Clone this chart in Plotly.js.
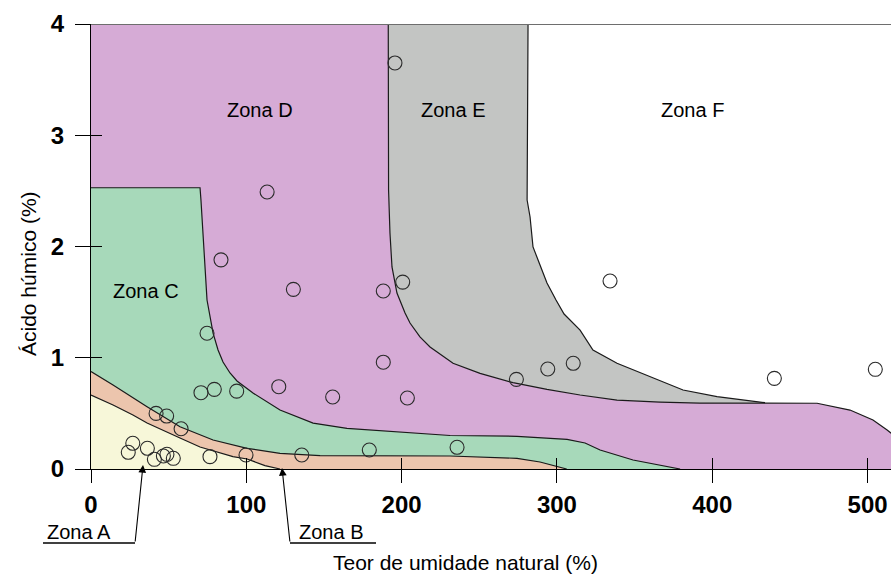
<!DOCTYPE html>
<html>
<head>
<meta charset="utf-8">
<script src="https://cdn.plot.ly/plotly-3.0.1.min.js"></script>
<style>html,body{margin:0;padding:0;background:#fff;}#chart{width:891px;height:578px;}</style>
</head>
<body>
<div id="chart"></div>
<script>
// ---- data ----
// measured samples: natural moisture content (%) and humic acid (%)
const moisture = [24.0, 26.9, 36.3, 40.8, 46.6, 48.9, 53.0, 41.9, 48.7, 58.0, 76.6, 99.8, 135.7,
  70.8, 79.4, 93.8, 74.7, 179.2, 235.7, 113.4, 83.7, 130.3, 120.9, 155.6, 188.2, 188.2, 203.7,
  195.7, 200.7, 273.9, 294.1, 310.5, 334.2, 440.0, 505.0];
const humic = [0.150, 0.231, 0.186, 0.087, 0.117, 0.132, 0.096, 0.50, 0.476, 0.362, 0.111, 0.126, 0.126,
  0.686, 0.716, 0.70, 1.22, 0.171, 0.195, 2.49, 1.88, 1.615, 0.74, 0.647, 1.60, 0.96, 0.638,
  3.65, 1.68, 0.806, 0.899, 0.950, 1.69, 0.815, 0.896];

// zone boundaries (upper edge of each zone)
const zoneA_x = [0, 14.2, 27.0, 36.1, 57.3, 70.2, 91.4, 100.5, 112.0, 121.7];
const zoneA_y = [0.665, 0.575, 0.485, 0.413, 0.279, 0.198, 0.112, 0.090, 0.031, 0];

const zoneB_x = [0, 14.2, 36.1, 57.3, 78.6, 100.5, 121.7, 147.5, 231.2, 274.3, 289.1, 306.3];
const zoneB_y = [0.876, 0.755, 0.56, 0.38, 0.261, 0.186, 0.141, 0.121, 0.117, 0.096, 0.063, 0];

const zoneC_x = [0, 70.2, 70.8, 74.7, 78.6, 81.8, 85.0, 89.5, 94.0, 104.3, 121.7, 143.0, 164.8,
  207.3, 231.2, 274.3, 306.5, 318.1, 327.8, 349.0, 379.3];
const zoneC_y = [2.528, 2.528, 2.418, 1.519, 1.222, 1.07, 0.962, 0.863, 0.791, 0.683, 0.530, 0.413, 0.366,
  0.321, 0.301, 0.294, 0.267, 0.234, 0.171, 0.081, 0];

const zoneD_x = [0, 191.4, 191.6, 192.5, 193.8, 197.0, 202.2, 205.4, 211.8, 218.3, 233.1, 250.5, 271.7,
  293.6, 314.9, 338.7, 366.4, 392.1, 430.8, 467.5, 488.7, 503.5, 512.6, 515.0, 525];
const zoneD_y = [4, 4, 2.508, 2.121, 1.816, 1.582, 1.402, 1.312, 1.187, 1.097, 0.950, 0.860, 0.776,
  0.716, 0.665, 0.620, 0.602, 0.593, 0.593, 0.591, 0.530, 0.440, 0.351, 0.324, 0.24];

const zoneE_x = [281.4, 280.8, 280.8, 282.7, 284.6, 289.1, 293.6, 299.4, 304.6, 314.9, 323.2, 338.7,
  360.0, 381.2, 403.1, 434.0];
const zoneE_y = [4, 2.778, 2.418, 2.265, 1.996, 1.834, 1.672, 1.519, 1.393, 1.249, 1.070, 0.950,
  0.830, 0.710, 0.650, 0.596];

const zoneLabels = ['Zona A', 'Zona B', 'Zona C', 'Zona D', 'Zona E', 'Zona F'];
const xTicks = [0, 100, 200, 300, 400, 500];
const yTicks = [0, 1, 2, 3, 4];
const xTitle = 'Teor de umidade natural (%)';
const yTitle = 'Ácido húmico (%)';

// ---- build ----
const colA = '#f7f7d9', colB = '#ecc5ad', colC = '#a7d9ba', colD = '#d6abd6', colE = '#c3c5c3';
const edge = '#1a1a1a';

function closedUnder(xs, ys) {
  return { x: [0].concat(xs, [xs[xs.length - 1], 0]), y: [0].concat(ys, [0, 0]) };
}
function fillTrace(p, color) {
  return { x: p.x, y: p.y, mode: 'lines', fill: 'toself', fillcolor: color,
    line: { width: 0 }, hoverinfo: 'skip', showlegend: false };
}
function edgeTrace(xs, ys) {
  return { x: xs, y: ys, mode: 'lines', line: { color: edge, width: 1.2 },
    hoverinfo: 'skip', showlegend: false };
}

const pD = closedUnder(zoneD_x, zoneD_y);
const pC = closedUnder(zoneC_x, zoneC_y);
const pB = closedUnder(zoneB_x, zoneB_y);
const pA = closedUnder(zoneA_x, zoneA_y);
const eLeftX = zoneD_x.slice(1, 19), eLeftY = zoneD_y.slice(1, 19);
const pE = { x: eLeftX.concat(zoneE_x.slice().reverse()), y: eLeftY.concat(zoneE_y.slice().reverse()) };

const traces = [
  fillTrace(pD, colD),
  fillTrace(pE, colE),
  fillTrace(pC, colC),
  fillTrace(pB, colB),
  fillTrace(pA, colA),
  edgeTrace(zoneD_x.slice(1), zoneD_y.slice(1)),
  edgeTrace(zoneE_x, zoneE_y),
  edgeTrace(zoneC_x, zoneC_y),
  edgeTrace(zoneB_x, zoneB_y),
  edgeTrace(zoneA_x, zoneA_y),
  { x: moisture, y: humic, mode: 'markers', showlegend: false,
    marker: { symbol: 'circle-open', size: 14, color: '#2a2a2a', line: { width: 1.1, color: '#2a2a2a' } } },
  { x: [], y: [], xaxis: 'x2', yaxis: 'y2', showlegend: false }
];

const tickFont = { family: 'Liberation Sans, Arial, sans-serif', size: 24, color: '#000', weight: 'bold' };
const zoneFont = { family: 'Liberation Sans, Arial, sans-serif', size: 20, color: '#000' };
const titleFont = { family: 'Liberation Sans, Arial, sans-serif', size: 21, color: '#000' };

const XR = [0, 515.1], YR = [0, 4];

const layout = {
  width: 891, height: 578,
  margin: { l: 91, r: 0, t: 24, b: 109, pad: 0 },
  paper_bgcolor: '#fff', plot_bgcolor: '#fff',
  showlegend: false,
  xaxis: { range: XR, showgrid: false, zeroline: false, showline: true, linecolor: '#000', linewidth: 1,
    tickmode: 'array', tickvals: xTicks, ticktext: xTicks.map(String), ticks: 'outside', ticklen: 13,
    tickcolor: '#000', tickwidth: 1, tickfont: tickFont, ticklabelstandoff: 1, fixedrange: true },
  yaxis: { range: YR, showgrid: false, zeroline: false, showline: true, linecolor: '#000', linewidth: 1,
    tickmode: 'array', tickvals: yTicks, ticktext: yTicks.map(String), ticks: 'outside', ticklen: 15,
    tickcolor: '#000', tickwidth: 1, tickfont: tickFont, ticklabelstandoff: 6, fixedrange: true },
  xaxis2: { overlaying: 'x', anchor: 'y2', side: 'bottom', range: XR, showgrid: false, zeroline: false,
    showline: false, tickmode: 'array', tickvals: xTicks, ticks: 'inside', ticklen: 11, tickcolor: '#000',
    showticklabels: false },
  yaxis2: { overlaying: 'y', anchor: 'x2', side: 'left', range: YR, showgrid: false, zeroline: false,
    showline: false, tickmode: 'array', tickvals: yTicks, ticks: 'inside', ticklen: 11, tickcolor: '#000',
    showticklabels: false },
  shapes: [
    { type: 'line', xref: 'paper', yref: 'y', x0: 0, x1: 1, y0: 4, y1: 4, line: { color: '#6e6e6e', width: 2 }, layer: 'above' },
    { type: 'line', xref: 'paper', yref: 'paper', x0: -0.06, x1: 0.055, y0: -0.1663, y1: -0.1663, line: { color: '#000', width: 1.3 } },
    { type: 'line', xref: 'paper', yref: 'paper', x0: 0.24875, x1: 0.35625, y0: -0.1663, y1: -0.1663, line: { color: '#000', width: 1.3 } }
  ],
  annotations: [
    { text: zoneLabels[3], x: 108.8, y: 3.227, xref: 'x', yref: 'y', showarrow: false, font: zoneFont, xanchor: 'center', yanchor: 'middle' },
    { text: zoneLabels[4], x: 233.1, y: 3.227, xref: 'x', yref: 'y', showarrow: false, font: zoneFont, xanchor: 'center', yanchor: 'middle' },
    { text: zoneLabels[5], x: 387.3, y: 3.227, xref: 'x', yref: 'y', showarrow: false, font: zoneFont, xanchor: 'center', yanchor: 'middle' },
    { text: zoneLabels[2], x: 35.1, y: 1.6, xref: 'x', yref: 'y', showarrow: false, font: zoneFont, xanchor: 'center', yanchor: 'middle' },
    { text: zoneLabels[0], x: -0.015, y: -0.1416, xref: 'paper', yref: 'paper', showarrow: false, font: zoneFont, xanchor: 'center', yanchor: 'middle' },
    { text: zoneLabels[1], x: 0.3, y: -0.1416, xref: 'paper', yref: 'paper', showarrow: false, font: zoneFont, xanchor: 'center', yanchor: 'middle' },
    { text: '', x: 33.5, y: 0.036, xref: 'x', yref: 'y', showarrow: true, ax: -8, ay: 78,
      arrowhead: 2, arrowsize: 1.4, arrowwidth: 1.1, arrowcolor: '#000', standoff: 0 },
    { text: '', x: 123.0, y: 0.009, xref: 'x', yref: 'y', showarrow: true, ax: 8, ay: 75,
      arrowhead: 2, arrowsize: 1.4, arrowwidth: 1.1, arrowcolor: '#000', standoff: 0 },
    { text: xTitle, x: 0.4675, y: -0.211, xref: 'paper', yref: 'paper', showarrow: false, font: titleFont, xanchor: 'center', yanchor: 'middle' },
    { text: yTitle, x: -0.079, y: 0.44, xref: 'paper', yref: 'paper', showarrow: false, textangle: -90, font: titleFont, xanchor: 'center', yanchor: 'middle' }
  ]
};

Plotly.newPlot('chart', traces, layout, { staticPlot: true, displayModeBar: false });
</script>
</body>
</html>
